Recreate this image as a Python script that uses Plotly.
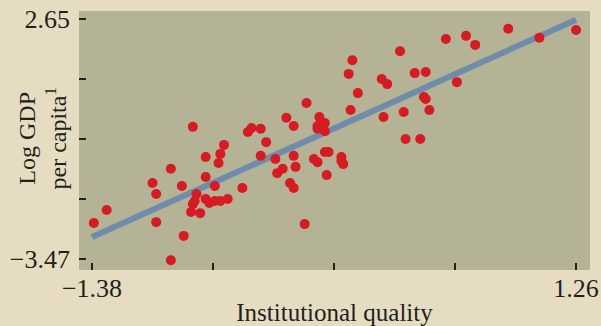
import plotly.graph_objects as go

# Country observations: institutional quality vs. log GDP per capita
inst_quality = [
    -1.37, -1.30, -1.05, -1.03, -1.03, -0.95, -0.95, -0.89, -0.88, -0.83,
    -0.81, -0.82, -0.83, -0.84, -0.79, -0.76, -0.76, -0.76, -0.74, -0.71,
    -0.68, -0.64, -0.71, -0.69, -0.68, -0.66, -0.56, -0.53, -0.51, -0.46,
    -0.43, -0.46, -0.38, -0.28, -0.27, -0.34, -0.37, -0.30, -0.28, -0.22,
    -0.32, -0.28, -0.21, -0.14, -0.15, -0.15, -0.11, -0.11, -0.17, -0.15,
    -0.11, -0.09, -0.10, -0.02, -0.02, -0.01, 0.03, 0.07, 0.02, 0.04,
    0.20, 0.23, 0.21, 0.30, 0.32, 0.33, 0.41, 0.38, 0.44, 0.43,
    0.44, 0.46, 0.55, 0.66, 0.71, 0.61, 0.89, 1.06, 1.26,
]
log_gdp = [
    -2.55, -2.22, -1.53, -1.81, -2.53, -1.17, -3.50, -1.61, -2.88, -0.10,
    -1.81, -1.99, -2.07, -2.27, -2.30, -0.87, -1.38, -1.94, -2.04, -1.99,
    -1.99, -1.94, -1.61, -1.02, -0.79, -0.56, -1.66, -0.23, -0.13, -0.15,
    -0.49, -0.84, -0.92, -0.84, -1.12, -1.17, -1.28, -1.53, -1.66, -2.58,
    0.13, -0.08, 0.51, 0.15, -0.08, -0.15, 0.00, -0.21, -0.92, -1.00,
    -0.74, -0.74, -1.33, -0.87, -0.97, -1.05, 0.33, 0.76, 1.25, 1.60,
    1.12, 0.99, 0.15, 1.83, 0.28, -0.41, -0.41, 1.27, 1.30, 0.66,
    0.61, 0.33, 2.14, 2.22, 1.99, 1.04, 2.40, 2.17, 2.37,
]

# Fitted regression line end points
fit_x = [-1.38, 1.26]
fit_y = [-2.91, 2.63]

# Labelled ticks at the extremes, unlabelled ticks in between
x_ticks = [-1.38, 1.26]
x_tick_text = ["\u22121.38", "1.26"]
x_inner_ticks = [-0.72, -0.06, 0.60]
y_ticks = [-3.47, 2.65]
y_tick_text = ["\u22123.47", "2.65"]
y_inner_ticks = [-1.94, -0.41, 1.12]

SERIF = "Liberation Serif, Times New Roman, serif"
INK = "#231f1c"

fig = go.Figure()
fig.add_trace(go.Scatter(
    x=fit_x, y=fit_y, mode="lines",
    line=dict(color="#6f8cab", width=6),
    hoverinfo="skip", showlegend=False,
))
fig.add_trace(go.Scatter(
    x=inst_quality, y=log_gdp, mode="markers",
    marker=dict(color="#d81a22", size=10, line=dict(width=0)),
    showlegend=False,
))

fig.update_layout(
    width=601, height=326,
    margin=dict(l=79, r=11, t=11, b=56),
    paper_bgcolor="#e6dcc2",
    plot_bgcolor="#b4b395",
    font=dict(family=SERIF, color=INK),
)
fig.update_xaxes(
    automargin=False,
    range=[-1.451, 1.336],
    tickvals=x_ticks, ticktext=x_tick_text,
    ticks="inside", ticklen=7, tickwidth=1.5, tickcolor=INK,
    minor=dict(tickvals=x_inner_ticks, ticks="inside", ticklen=7,
               tickwidth=1.5, tickcolor=INK, showgrid=False),
    tickfont=dict(size=26, family=SERIF, color=INK),
    showgrid=False, zeroline=False, showline=False,
    title=dict(text="Institutional quality", font=dict(size=25, family=SERIF, color=INK)),
)
fig.update_yaxes(
    automargin=False,
    range=[-3.75, 2.854],
    tickvals=y_ticks, ticktext=y_tick_text,
    ticks="inside", ticklen=7, tickwidth=1.5, tickcolor=INK,
    minor=dict(tickvals=y_inner_ticks, ticks="inside", ticklen=7,
               tickwidth=1.5, tickcolor=INK, showgrid=False),
    tickfont=dict(size=26, family=SERIF, color=INK),
    ticklabelstandoff=8,
    showgrid=False, zeroline=False, showline=False,
)

# Two-line vertical y-axis title, tucked in beside the tick labels
fig.add_annotation(
    text="Log GDP<br>per capita<sup>1</sup>",
    xref="paper", yref="paper", x=0, y=0.5,
    xanchor="center", yanchor="middle",
    xshift=-37, yshift=2,
    textangle=-90, showarrow=False,
    font=dict(size=24, family=SERIF, color=INK),
)

fig.write_html("out.html")
